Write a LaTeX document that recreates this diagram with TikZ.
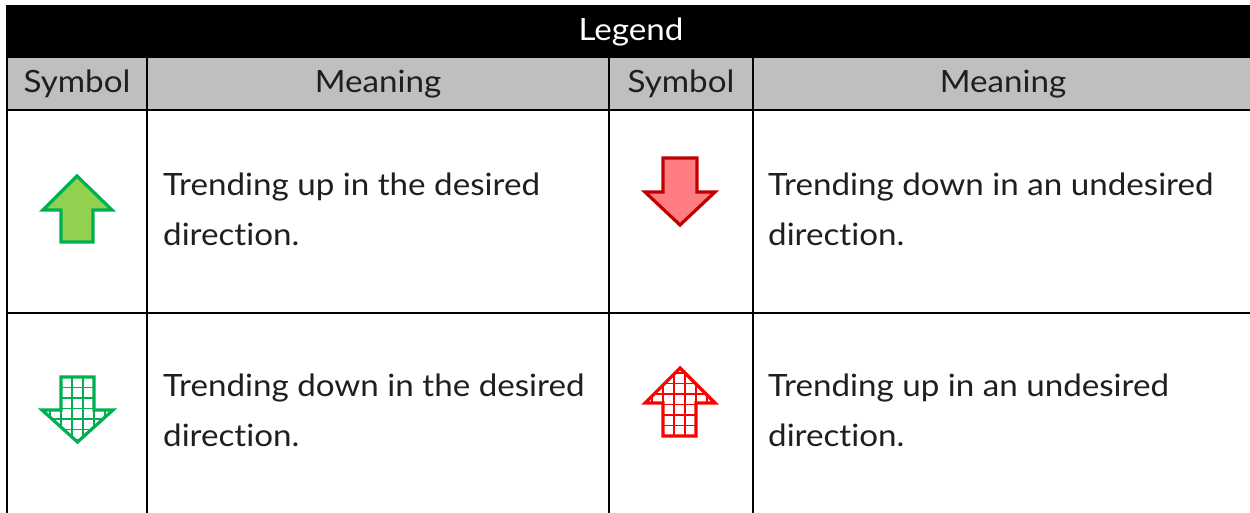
\documentclass[tikz,border=0pt]{standalone}
\usepackage{fontspec}
\setmainfont{Lato}[FakeStretch=1.08,Ligatures={NoCommon,NoRequired,NoContextual}]
\definecolor{hdrgray}{HTML}{BFBFBF}
\definecolor{gstroke}{HTML}{00B050}
\definecolor{gfill}{HTML}{92D050}
\definecolor{rdark}{HTML}{C00000}
\definecolor{rfill}{HTML}{FF7C80}
\definecolor{rbright}{HTML}{FF0000}
\begin{document}
\begin{tikzpicture}[x=1pt,y=-1pt,
  rule/.style={line width=2.2pt,black},
  celltext/.style={anchor=base west,inner sep=0pt,font=\fontsize{30.7}{50}\selectfont,align=left,text=black!88},
  headtext/.style={anchor=base,inner sep=0pt,font=\fontsize{30.7}{36}\selectfont,text=black!88},
  solidarrow/.style={line width=3.2pt,line join=miter},
  gridline/.style={line width=1.5pt}]
\useasboundingbox (0,0) rectangle (1250,512);
% header bands
\fill[black] (6,5) rectangle (1260,58);
\fill[hdrgray] (6,58) rectangle (1260,110);
% rules
\draw[rule] (7,58) -- (7,520);
\draw[rule] (147,58) -- (147,520);
\draw[rule] (609,58) -- (609,520);
\draw[rule] (753,58) -- (753,520);
\draw[rule] (6,110) -- (1260,110);
\draw[rule] (6,313) -- (1260,313);
% header texts
\node[headtext,text=white] (legend) at (631,40) {Legend};
\node[headtext] (sym1) at (77,92) {Symbol};
\node[headtext] (mean1) at (378,92) {Meaning};
\node[headtext] (sym2) at (681,92) {Symbol};
\node[headtext] (mean2) at (1003,92) {Meaning};
% cell texts (base anchor = last line baseline)
\node[celltext] (t1) at (163,245) {Trending up in the desired\\direction.};
\node[celltext] (t2) at (768,245) {Trending down in an undesired\\direction.};
\node[celltext] (t3) at (163,446) {Trending down in the desired\\direction.};
\node[celltext] (t4) at (768,446) {Trending up in an undesired\\direction.};
% green solid up arrow
\draw[solidarrow,draw=gstroke,fill=gfill]
  (77,176) -- (112,210) -- (93,210) -- (93,242) -- (61,242) -- (61,210) -- (43,210) -- cycle;
% red solid down arrow
\draw[solidarrow,draw=rdark,fill=rfill]
  (663,158) -- (697,158) -- (697,192) -- (715,192) -- (680,225) -- (645,192) -- (663,192) -- cycle;
% green hatched down arrow
\begin{scope}
  \clip (61,377) -- (94,377) -- (94,410) -- (113,410) -- (77.5,442) -- (42,410) -- (61,410) -- cycle;
  \foreach \i in {0,...,8} {
    \draw[gridline,gstroke] (39+\i*11,370) -- (39+\i*11,450);
    \draw[gridline,gstroke] (35,377+\i*10.5) -- (120,377+\i*10.5);
  }
\end{scope}
\draw[solidarrow,draw=gstroke]
  (61,377) -- (94,377) -- (94,410) -- (113,410) -- (77.5,442) -- (42,410) -- (61,410) -- cycle;
% red hatched up arrow
\begin{scope}
  \clip (680,368) -- (715,403) -- (696,403) -- (696,436) -- (663,436) -- (663,403) -- (645,403) -- cycle;
  \foreach \i in {0,...,8} {
    \draw[gridline,rbright] (641+\i*11,360) -- (641+\i*11,440);
    \draw[gridline,rbright] (640,436-\i*10.5) -- (720,436-\i*10.5);
  }
\end{scope}
\draw[solidarrow,draw=rbright]
  (680,368) -- (715,403) -- (696,403) -- (696,436) -- (663,436) -- (663,403) -- (645,403) -- cycle;
\end{tikzpicture}
\end{document}
